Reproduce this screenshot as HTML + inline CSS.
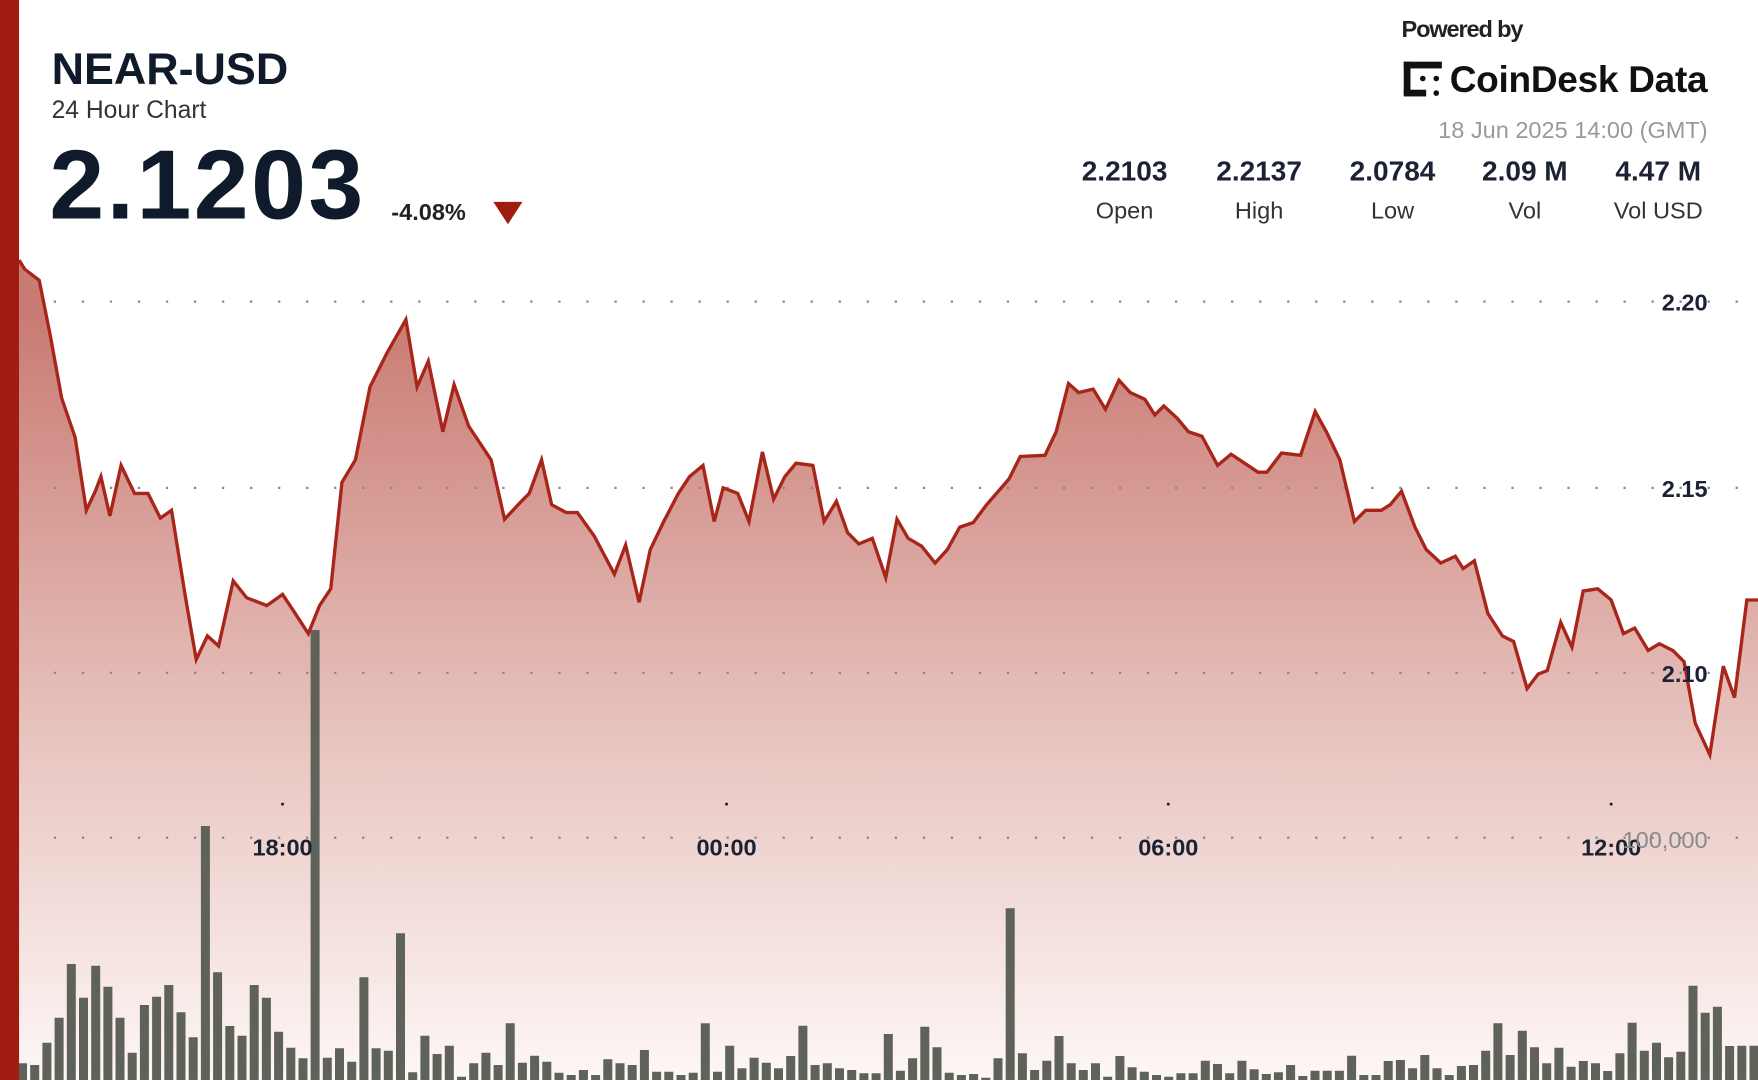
<!DOCTYPE html>
<html><head><meta charset="utf-8"><style>
html,body{margin:0;padding:0;background:#fff;width:1758px;height:1080px;overflow:hidden}
svg{display:block}
text{font-family:"Liberation Sans","DejaVu Sans",sans-serif}
</style></head><body>
<svg id="s" width="1758" height="1080" viewBox="0 0 1758 1080" xmlns="http://www.w3.org/2000/svg">
<defs>
<linearGradient id="g" gradientUnits="userSpaceOnUse" x1="0" y1="285" x2="0" y2="963">
<stop offset="0" stop-color="#c97c74"/>
<stop offset="0.55" stop-color="#e8c4bf"/>
<stop offset="1" stop-color="#fdf7f6"/>
</linearGradient>
</defs>
<g transform="scale(1.1212,1.1215)">
<path id="area" fill="url(#g)" d=""/>
<g stroke="#888" stroke-width="2" stroke-dasharray="2 23" stroke-linecap="butt">
<line x1="48" y1="269" x2="1568" y2="269"/>
<line x1="48" y1="435" x2="1568" y2="435"/>
<line x1="48" y1="600" x2="1568" y2="600"/>
<line x1="48" y1="747" x2="1568" y2="747"/>
</g>
</g>
<path id="bars" fill="#5e6259" d=""/>
<g transform="scale(1.1212,1.1215)">
<path id="line" fill="none" stroke="#a8251a" stroke-width="3" stroke-linejoin="miter" d=""/>
<rect x="0" y="0" width="17" height="963" fill="#a01c10"/>
<g fill="#222">
<circle cx="252" cy="717" r="1.3"/><circle cx="648" cy="717" r="1.3"/><circle cx="1042" cy="717" r="1.3"/><circle cx="1437" cy="717" r="1.3"/>
</g>
<g font-weight="bold" font-size="21" fill="#1a2233" text-anchor="middle">
<text x="252" y="763">18:00</text><text x="648" y="763">00:00</text><text x="1042" y="763">06:00</text><text x="1437" y="763">12:00</text>
</g>
<g font-weight="bold" font-size="21" fill="#1a2233" text-anchor="end">
<text x="1523" y="277">2.20</text><text x="1523" y="443">2.15</text><text x="1523" y="608">2.10</text>
</g>
<text x="1523" y="756" text-anchor="end" font-size="21" fill="#8a8a8a">100,000</text>
<text x="46" y="75" font-size="40" font-weight="bold" fill="#0f1a2a">NEAR-USD</text>
<text x="46" y="105" font-size="22" fill="#333">24 Hour Chart</text>
<text x="44" y="195" font-size="88" font-weight="bold" fill="#0f1a2a" textLength="280">2.1203</text>
<text x="349" y="196" font-size="21" font-weight="bold" fill="#222">-4.08%</text>
<polygon points="440,180 466,180 453,200" fill="#a01c10"/>
<text x="1250" y="33" font-size="21" font-weight="bold" fill="#222" letter-spacing="-1">Powered by</text>
<g fill="#111">
<rect x="1252" y="55" width="6" height="30"/><rect x="1252" y="55" width="34" height="6"/><rect x="1252" y="80" width="20" height="6"/>
<circle cx="1269" cy="70" r="2.5"/><circle cx="1281" cy="70" r="2.5"/><circle cx="1281" cy="83" r="2.5"/>
</g>
<text x="1293" y="82" font-size="33" font-weight="bold" fill="#111" textLength="230">CoinDesk Data</text>
<text x="1523" y="123" text-anchor="end" font-size="21" fill="#999">18 Jun 2025 14:00 (GMT)</text>
<g text-anchor="middle" font-size="25" font-weight="bold" fill="#1a2233">
<text x="1003" y="161">2.2103</text><text x="1123" y="161">2.2137</text><text x="1242" y="161">2.0784</text><text x="1360" y="161">2.09 M</text><text x="1479" y="161">4.47 M</text>
</g>
<g text-anchor="middle" font-size="21" fill="#333">
<text x="1003" y="195">Open</text><text x="1123" y="195">High</text><text x="1242" y="195">Low</text><text x="1360" y="195">Vol</text><text x="1479" y="195">Vol USD</text>
</g>
</g>
</svg>
<script>
(function(){
var P=[[17,232],[22,240],[35,250],[45,300],[55,355],[67,390],[77,455],[85,438],[90,425],[98,460],[108,415],[120,440],[132,440],[143,462],[153,455],[165,530],[175,588],[185,567],[195,576],[208,518],[220,533],[238,540],[252,530],[262,545],[275,565],[285,540],[295,525],[305,430],[317,410],[330,345],[345,315],[362,285],[372,345],[382,322],[395,385],[405,343],[418,380],[438,410],[450,463],[465,447],[472,440],[483,410],[492,450],[505,457],[515,457],[530,478],[548,512],[558,486],[570,537],[580,490],[592,465],[605,440],[615,425],[627,415],[637,465],[645,435],[658,440],[668,465],[680,403],[690,445],[700,425],[710,413],[725,415],[735,465],[746,447],[756,475],[766,485],[778,480],[790,515],[800,463],[810,480],[822,487],[834,502],[845,490],[856,470],[868,466],[880,450],[900,427],[910,407],[932,406],[942,385],[953,342],[962,350],[975,347],[986,365],[998,339],[1008,350],[1021,356],[1030,370],[1038,362],[1050,373],[1060,385],[1072,389],[1086,415],[1098,405],[1110,413],[1122,421],[1130,421],[1143,404],[1160,406],[1173,367],[1183,385],[1195,410],[1208,465],[1218,455],[1232,455],[1240,450],[1250,438],[1262,470],[1272,490],[1285,502],[1298,496],[1305,507],[1315,500],[1327,547],[1340,567],[1350,572],[1362,614],[1372,601],[1380,598],[1392,555],[1402,577],[1412,527],[1425,525],[1437,535],[1448,565],[1458,560],[1470,580],[1480,574],[1492,580],[1502,590],[1512,645],[1525,673],[1537,594],[1547,622],[1558,535],[1570,535]];
var d="M"+P.map(function(p){return p[0]+","+p[1]}).join(" L");
document.getElementById("line").setAttribute("d",d);
document.getElementById("area").setAttribute("d",d+" L1570,963 L17,963 Z");
var A=[850,855,788,713,552,653,557,620,713,818,675,650,615,697,772,138,577,738,767,615,653,755,803,835,-450,833,805,845,592,805,812,460,877,767,822,797,890,850,818,855,730,848,827,845,878,885,870,885,838,850,855,810,875,875,885,878,730,875,797,865,833,848,865,828,737,855,850,865,870,880,880];
var B=[762,872,835,740,802,878,885,882,893,835,385,820,870,842,768,850,870,850,890,828,862,875,885,890,880,880,842,852,880,842,868,882,877,855,888,872,872,872,827,885,885,843,840,865,825,865,885,858,855,812,730,825,752,802,850,803,860,843,850,873,820,728,812,788,832,815,617,698,680,798,797,797];
var T=A.concat(B),n=T.length,x0=22.5,x1=1754,pitch=(x1-x0)/(n-1),s="";
for(var i=0;i<n;i++){var top=(T[i]<0)?630:780+T[i]/3;var x=x0+i*pitch-4.5;
s+="M"+x.toFixed(1)+","+top.toFixed(1)+" h9 V1080 h-9 Z ";}
document.getElementById("bars").setAttribute("d",s);
})();
</script>
</body></html>
